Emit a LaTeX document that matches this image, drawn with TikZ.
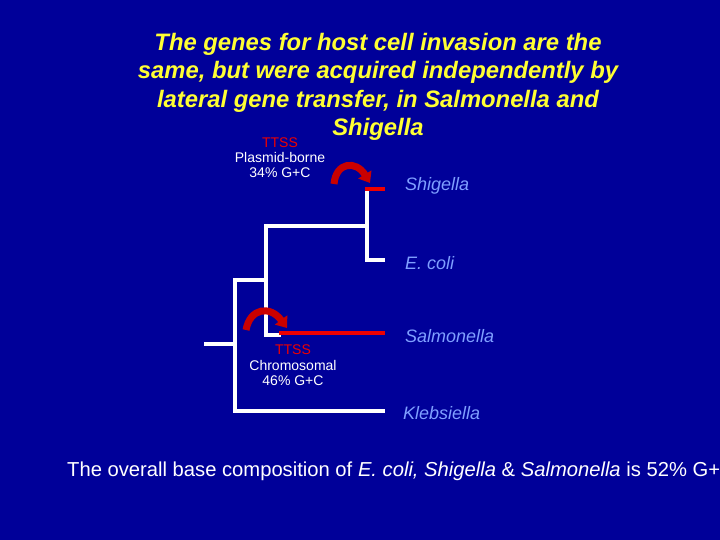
\documentclass[tikz,border=0pt]{standalone}
\usepackage{fontspec}
\setmainfont{Liberation Sans}
\usetikzlibrary{arrows.meta}
\definecolor{bg}{HTML}{000099}
\definecolor{ttl}{HTML}{FFFF33}
\definecolor{lbl}{HTML}{7F9FFF}
\definecolor{rd}{HTML}{EE0000}
\begin{document}
\begin{tikzpicture}[x=1pt,y=-1pt,
  br/.style={white,line width=4.5pt},
  rbr/.style={rd,line width=4.5pt},
  tx/.style={inner sep=0pt,anchor=west,font=\fontsize{18}{18}\selectfont\itshape,text=lbl},
  sm/.style={inner sep=0pt,font=\fontsize{14}{14.5}\selectfont,align=center},
  carrow/.style={rd!85!black,line width=7pt,-{Triangle[length=10pt,width=15pt]}}]
\fill[bg] (0,0) rectangle (720,540);
\useasboundingbox (0,0) rectangle (720,540);
\node[text=ttl,font=\fontsize{23.8}{28.5}\selectfont\bfseries\itshape,align=center,inner sep=0pt] (title) at (378,87)
 {The genes for host cell invasion are the\\same, but were acquired independently by\\lateral gene transfer, in Salmonella and\\Shigella};
% tree
\coordinate (a1) at (367,189); \coordinate (a2) at (367,260);
\draw[br] (a1) -- (a2) -- (385,260);
\draw[rbr] (365,189) -- (385,189);
\draw[br] (266,226) -- (369,226);
\draw[br] (266,224) -- (266,335) -- (281,335);
\draw[rbr] (279,333) -- (385,333);
\draw[br] (235,280) -- (268,280);
\draw[br] (235,278) -- (235,411) -- (385,411);
\draw[br] (204,344) -- (237,344);
% arrows
\draw[carrow] (334,184) .. controls (336,162) and (356,160) .. (370,183);
\draw[carrow] (246,330) .. controls (250,308) and (270,305) .. (287,328);
% labels
\node[sm,text=rd] (t1) at (280,143) {TTSS};
\node[sm,text=white] (p1) at (280,165) {Plasmid-borne\\34\% G+C};
\node[sm,text=rd] (t2) at (293,350) {TTSS};
\node[sm,text=white] (p2) at (293,373) {Chromosomal\\46\% G+C};
\node[tx] (sh) at (405,186) {Shigella};
\node[tx] (ec) at (405,263) {E. coli};
\node[tx] (sa) at (405,336) {Salmonella};
\node[tx] (kl) at (403,413) {Klebsiella};
\node[inner sep=0pt,anchor=west,text=white,font=\fontsize{20.2}{19}\selectfont] (bot) at (67,471)
 {The overall base composition of \textit{E. coli, Shigella} \& \textit{Salmonella} is 52\% G+C};
\end{tikzpicture}
\end{document}
